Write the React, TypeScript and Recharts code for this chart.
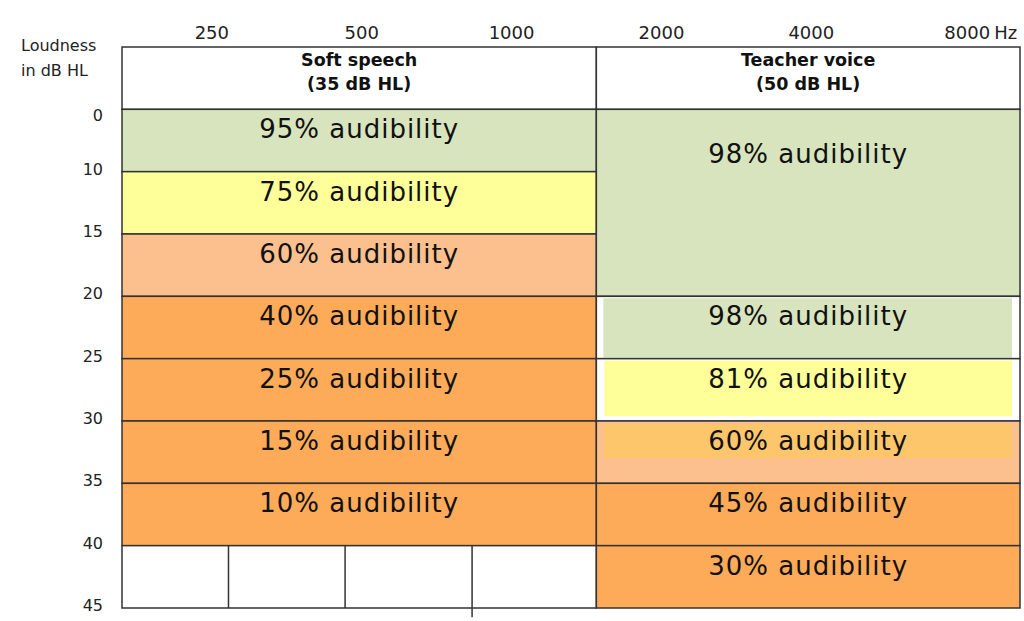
import React from 'react';
import { ComposedChart, XAxis, YAxis, ReferenceArea, ReferenceLine, Customized } from 'recharts';

// ---- data ----
const freqTicks = [250, 500, 1000, 2000, 4000, 8000];
const freqDomain = [165, 10500];
const columnEdges = [165, 1480, 10500];
const dbLabels = ['0', '10', '15', '20', '25', '30', '35', '40', '45'];
const rowIndex = [0, 1, 2, 3, 4, 5, 6, 7, 8];

const columnTitles = ['Soft speech', 'Teacher voice'];
const columnLevels = ['(35 dB HL)', '(50 dB HL)'];

const softStart = [0, 1, 2, 3, 4, 5, 6];
const softEnd = [1, 2, 3, 4, 5, 6, 7];
const softAudibility = [95, 75, 60, 40, 25, 15, 10];

const teacherStart = [0, 3, 4, 5, 6, 7];
const teacherEnd = [3, 4, 5, 6, 7, 8];
const teacherAudibility = [98, 98, 81, 60, 45, 30];

const emptyRowStart = 7;
const emptyRowEnd = 8;
const emptyRowLines = [270, 463, 833];
const emptyRowTickLine = 833;

// ---- styles ----
const GREEN = '#d7e4bd';
const YELLOW = '#ffff99';
const PEACH = '#fbc08d';
const ORANGE = '#fdab59';
const AMBER = '#fec66b';
const LINE = '#333333';
const FONT = '"DejaVu Sans", Verdana, sans-serif';

const softFills = [GREEN, YELLOW, PEACH, ORANGE, ORANGE, ORANGE, ORANGE];
const teacherFills = [GREEN, '#ffffff', '#ffffff', PEACH, ORANGE, ORANGE];
type Inner = null | { fill: string; l: number; r: number; t: number; b: number; h?: number };
const teacherInner: Inner[] = [
  null,
  { fill: GREEN, l: 7, r: 8, t: 2, b: 1 },
  { fill: YELLOW, l: 8, r: 8, t: 2, b: 5 },
  { fill: AMBER, l: 8, r: 8, t: 3, b: 0, h: 34 },
  null,
  null,
];
const teacherTextDy = [54, 29, 29, 29, 29, 29];

const CellShape = (props: any) => {
  const { x, y, width, height, cellFill, inner, text, textDy } = props;
  let innerRect = null;
  if (inner) {
    const ih = inner.h != null ? inner.h : height - inner.t - inner.b;
    innerRect = (
      <rect x={x + inner.l} y={y + inner.t} width={width - inner.l - inner.r} height={ih} fill={inner.fill} />
    );
  }
  return (
    <g>
      <rect x={x} y={y} width={width} height={height} fill={cellFill} />
      {innerRect}
      <rect x={x} y={y} width={width} height={height} fill="none" stroke={LINE} strokeWidth={1.5} />
      {text ? (
        <text
          x={x + width / 2}
          y={y + textDy}
          textAnchor="middle"
          fontFamily={FONT}
          fontSize={26}
          letterSpacing={1}
          fill="#111"
        >
          {text}
        </text>
      ) : null}
    </g>
  );
};

const HeaderShape = (props: any) => {
  const { x, y, width, height, title, level } = props;
  return (
    <g>
      <rect x={x} y={y} width={width} height={height} fill="#ffffff" stroke={LINE} strokeWidth={1.5} />
      <text x={x + width / 2} y={y + 19} textAnchor="middle" fontFamily={FONT} fontWeight="bold" fontSize={17.5} fill="#111">
        {title}
      </text>
      <text x={x + width / 2} y={y + 43} textAnchor="middle" fontFamily={FONT} fontWeight="bold" fontSize={17.5} fill="#111">
        {level}
      </text>
    </g>
  );
};

const XTick = (props: any) => {
  const { x, y, payload, index } = props;
  const last = index === freqTicks.length - 1;
  if (last) {
    return (
      <g>
        <text x={x + 6} y={y - 8} textAnchor="middle" fontFamily={FONT} fontSize={18} fill="#222">
          {payload.value}
        </text>
        <text x={x + 33} y={y - 8} textAnchor="start" fontFamily={FONT} fontSize={18} fill="#222">
          Hz
        </text>
      </g>
    );
  }
  return (
    <text x={x} y={y - 8} textAnchor="middle" fontFamily={FONT} fontSize={18} fill="#222">
      {payload.value}
    </text>
  );
};

const YTick = (props: any) => {
  const { x, y, payload } = props;
  const v = payload.value;
  return (
    <text x={x - 19} y={y + (v === 0 ? 12 : 3)} textAnchor="end" fontFamily={FONT} fontSize={16} fill="#222">
      {dbLabels[v]}
    </text>
  );
};

const AxisTitle = () => (
  <g>
    <text x={21} y={51} fontFamily={FONT} fontSize={16} fill="#222">Loudness</text>
    <text x={21} y={76} fontFamily={FONT} fontSize={16} fill="#222">in dB HL</text>
  </g>
);

const chartData = freqTicks.map((f) => ({ f }));

export default function App() {
  return (
    <div style={{ position: 'absolute', left: 0, top: 0, width: 1024, height: 621, background: '#fff' }}>
      <ComposedChart
        width={1024}
        height={621}
        data={chartData}
        margin={{ top: 17, right: 4, bottom: 13, left: 62 }}
      >
        <XAxis
          dataKey="f"
          type="number"
          scale="log"
          domain={freqDomain}
          ticks={freqTicks}
          allowDataOverflow
          orientation="top"
          height={30}
          axisLine={false}
          tickLine={false}
          tickSize={0}
          tickMargin={0}
          tick={<XTick />}
          interval={0}
        />
        <YAxis
          type="number"
          domain={[-1, 8]}
          reversed
          ticks={rowIndex}
          allowDataOverflow
          width={60}
          axisLine={false}
          tickLine={false}
          tickSize={0}
          tickMargin={0}
          tick={<YTick />}
          interval={0}
        />

        {columnTitles.map((t, i) => (
          <ReferenceArea
            key={'h' + i}
            x1={columnEdges[i]}
            x2={columnEdges[i + 1]}
            y1={-1}
            y2={0}
            ifOverflow="visible"
            shape={(p: any) => <HeaderShape {...p} title={t} level={columnLevels[i]} />}
          />
        ))}

        {softAudibility.map((v, i) => (
          <ReferenceArea
            key={'s' + i}
            x1={columnEdges[0]}
            x2={columnEdges[1]}
            y1={softStart[i]}
            y2={softEnd[i]}
            ifOverflow="visible"
            shape={(p: any) => (
              <CellShape {...p} cellFill={softFills[i]} inner={null} text={`${v}% audibility`} textDy={29} />
            )}
          />
        ))}

        <ReferenceArea
          x1={columnEdges[0]}
          x2={columnEdges[1]}
          y1={emptyRowStart}
          y2={emptyRowEnd}
          ifOverflow="visible"
          shape={(p: any) => <CellShape {...p} cellFill="#ffffff" inner={null} text="" textDy={0} />}
        />
        {emptyRowLines.map((f) => (
          <ReferenceLine
            key={'l' + f}
            segment={[
              { x: f, y: emptyRowStart },
              { x: f, y: f === emptyRowTickLine ? emptyRowEnd + 0.15 : emptyRowEnd },
            ]}
            stroke={LINE}
            strokeWidth={1.5}
            ifOverflow="visible"
          />
        ))}

        {teacherAudibility.map((v, i) => (
          <ReferenceArea
            key={'t' + i}
            x1={columnEdges[1]}
            x2={columnEdges[2]}
            y1={teacherStart[i]}
            y2={teacherEnd[i]}
            ifOverflow="visible"
            shape={(p: any) => (
              <CellShape
                {...p}
                cellFill={teacherFills[i]}
                inner={teacherInner[i]}
                text={`${v}% audibility`}
                textDy={teacherTextDy[i]}
              />
            )}
          />
        ))}

        <Customized component={AxisTitle} />
      </ComposedChart>
    </div>
  );
}
